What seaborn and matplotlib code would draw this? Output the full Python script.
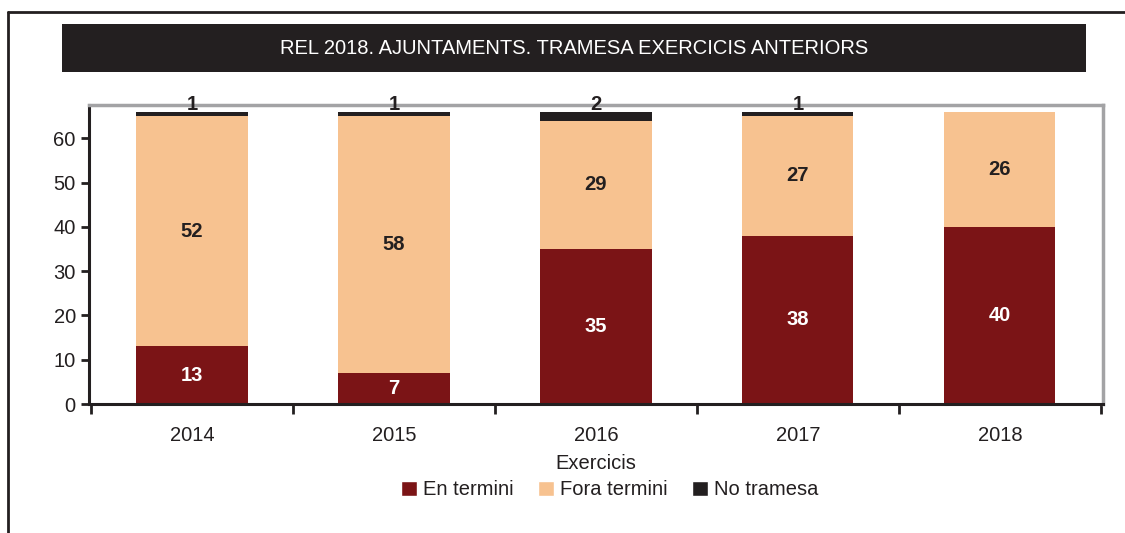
import numpy as np
import pandas as pd
import matplotlib
matplotlib.use("Agg")
import matplotlib.pyplot as plt
import seaborn as sns
from matplotlib.patches import Rectangle, Patch
from matplotlib.lines import Line2D

# data
years = ["2014", "2015", "2016", "2017", "2018"]
en_termini = [13, 7, 35, 38, 40]
fora_termini = [52, 58, 29, 27, 26]
no_tramesa = [1, 1, 2, 1, 0]

c_en = "#7B1416"
c_fora = "#F7C290"
c_no = "#231F20"

sns.set_style("white")
plt.rcParams["font.family"] = ["Liberation Sans Narrow", "Liberation Sans", "DejaVu Sans"]

df = pd.DataFrame({"year": years, "en": en_termini, "fora": fora_termini, "no": no_tramesa})
df["en_fora"] = df["en"] + df["fora"]
df["total"] = df["en_fora"] + df["no"]

fig = plt.figure(figsize=(11.25, 5.33), dpi=100)
ax = fig.add_axes([0.0791, 0.242, 0.9013, 0.561])

# stacked bars drawn as overlapping layers
for col, c in [("total", c_no), ("en_fora", c_fora), ("en", c_en)]:
    sns.barplot(data=df, x="year", y=col, color=c, width=0.55, saturation=1,
                linewidth=0, ax=ax)

for i, r in df.iterrows():
    if r["en"] > 0:
        ax.text(i, r["en"] / 2, str(r["en"]), ha="center", va="center",
                color="white", fontsize=14.5, fontweight="bold")
    if r["fora"] > 0:
        ax.text(i, r["en"] + r["fora"] / 2, str(r["fora"]), ha="center", va="center",
                color=c_no, fontsize=14.5, fontweight="bold")
    if r["no"] > 0:
        ax.text(i, r["total"] - 0.6, str(r["no"]), ha="center", va="bottom",
                color=c_no, fontsize=14.5, fontweight="bold", zorder=5, clip_on=False)

ax.set_xlim(-0.51, 4.51)
ax.set_ylim(0, 67.5)
ax.set_yticks([0, 10, 20, 30, 40, 50, 60])
ax.set_xticks(np.arange(-0.5, 5, 1), minor=True)
ax.tick_params(axis="x", which="major", length=0, labelsize=14.5, colors="#231F20", pad=16)
ax.tick_params(axis="x", which="minor", direction="out", length=7, width=2,
               color="#231F20", bottom=True)
ax.tick_params(axis="y", direction="out", length=6, width=2, color="#231F20",
               labelsize=14.5, labelcolor="#231F20", left=True)
ax.set_xlabel("Exercicis", fontsize=14.5, color="#231F20", labelpad=6)
ax.set_ylabel("")

for s in ["left", "bottom"]:
    ax.spines[s].set_color("#231F20")
    ax.spines[s].set_linewidth(2.2)
for s in ["top", "right"]:
    ax.spines[s].set_visible(True)
    ax.spines[s].set_color("#A3A3A5")
    ax.spines[s].set_linewidth(2.5)

handles = [Patch(facecolor=c_en, label="En termini"),
           Patch(facecolor=c_fora, label="Fora termini"),
           Patch(facecolor=c_no, label="No tramesa")]
fig.legend(handles=handles, loc="center", bbox_to_anchor=(0.542, 0.081), ncol=3,
           frameon=False, fontsize=14.5, handlelength=0.8, handleheight=0.8,
           handletextpad=0.3, columnspacing=1.2, labelcolor="#231F20")

# title band
fig.patches.append(Rectangle((62 / 1125, 1 - 72 / 533), (1086 - 62) / 1125, 48 / 533,
                             transform=fig.transFigure, facecolor=c_no, edgecolor="none"))
fig.text(574 / 1125, 1 - 49 / 533, "REL 2018. AJUNTAMENTS. TRAMESA EXERCICIS ANTERIORS",
         ha="center", va="center", color="white", fontsize=14.5)

# outer frame (top and left)
fig.lines.append(Line2D([8 / 1125, 1], [1 - 12 / 533, 1 - 12 / 533],
                        transform=fig.transFigure, color=c_no, lw=2))
fig.lines.append(Line2D([8 / 1125, 8 / 1125], [0, 1 - 12 / 533],
                        transform=fig.transFigure, color=c_no, lw=2))

fig.savefig("out.png", dpi=100)
